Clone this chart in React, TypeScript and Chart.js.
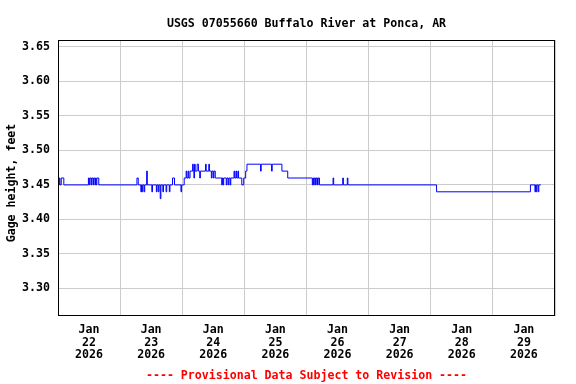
import React, { useEffect, useRef } from 'react';
import { Chart, registerables } from 'chart.js';

Chart.register(...registerables);

const TITLE = 'USGS 07055660 Buffalo River at Ponca, AR';
const Y_TITLE = 'Gage height, feet';
const FOOTER = '---- Provisional Data Subject to Revision ----';

const tickMonth = 'Jan';
const tickYear = '2026';
const tickDays = ['22', '23', '24', '25', '26', '27', '28', '29'];
const yTicks = [3.3, 3.35, 3.4, 3.45, 3.5, 3.55, 3.6, 3.65];

// hours since Jan 22 2026 00:00, value holds until next entry
const hours = [
  0, 0.5, 0.75, 1.25, 2.25, 11.75, 12, 12.25, 12.75, 13, 13.5, 13.75, 14.25, 14.5, 14.75, 15, 15.75,
  30.5, 31, 32, 32.25, 32.5, 32.75, 33.25, 33.5, 34.25, 34.5, 36.25, 36.5, 38, 38.25, 38.75, 39, 39.5, 39.75,
  40.5, 40.75, 41.75, 42, 43, 43.25, 44.25, 45, 47.5, 47.75,
  48.75, 49.5, 49.75, 50.25, 50.5, 51, 52, 52.25, 52.5, 52.75, 53, 53.75, 54.25, 54.75, 55, 57, 57.25,
  58.25, 58.5, 59.25, 59.5, 60, 60.25, 60.75, 63.25, 63.5, 63.75, 64, 65, 65.25, 65.75, 66, 66.5, 66.75,
  68, 68.25, 68.75, 69, 69.5, 69.75, 71, 71.75, 72.5, 73,
  78.25, 78.5, 82.5, 82.75, 86.5, 88.75,
  98.25, 98.5, 98.75, 99, 99.5, 99.75, 100.25, 100.5, 101, 106.25, 106.5, 110, 110.25, 111.75, 112,
  146.25,
  182.5, 184.25, 184.5, 184.75, 185, 185.5, 185.75, 186.5,
];
const gageHeight = [
  3.45, 3.46, 3.45, 3.46, 3.45, 3.46, 3.45, 3.46, 3.45, 3.46, 3.45, 3.46, 3.45, 3.46, 3.45, 3.46, 3.45,
  3.46, 3.45, 3.44, 3.45, 3.44, 3.45, 3.44, 3.45, 3.47, 3.45, 3.44, 3.45, 3.44, 3.45, 3.44, 3.45, 3.43, 3.45,
  3.44, 3.45, 3.44, 3.45, 3.44, 3.45, 3.46, 3.45, 3.44, 3.45,
  3.46, 3.47, 3.46, 3.47, 3.46, 3.47, 3.48, 3.47, 3.46, 3.48, 3.47, 3.48, 3.47, 3.46, 3.47, 3.48, 3.47,
  3.48, 3.47, 3.46, 3.47, 3.46, 3.47, 3.46, 3.45, 3.46, 3.45, 3.46, 3.45, 3.46, 3.45, 3.46, 3.45, 3.46,
  3.47, 3.46, 3.47, 3.46, 3.47, 3.46, 3.45, 3.46, 3.47, 3.48,
  3.47, 3.48, 3.47, 3.48, 3.47, 3.46,
  3.45, 3.46, 3.45, 3.46, 3.45, 3.46, 3.45, 3.46, 3.45, 3.46, 3.45, 3.46, 3.45, 3.46, 3.45,
  3.44,
  3.45, 3.44, 3.45, 3.44, 3.45, 3.44, 3.45, 3.45,
];

const FONT_FAMILY = '"DejaVu Sans Mono", monospace';

const decorPlugin = {
  id: 'decor',
  afterDraw(chart: any) {
    const { ctx, chartArea: a } = chart;
    ctx.save();
    ctx.strokeStyle = '#000000';
    ctx.lineWidth = 1;
    ctx.strokeRect(a.left + 0.5, a.top + 0.5, a.right - a.left - 1, a.bottom - a.top - 1);

    ctx.fillStyle = '#000000';
    ctx.font = `bold 11.6px ${FONT_FAMILY}`;
    ctx.textAlign = 'center';
    ctx.textBaseline = 'alphabetic';
    ctx.fillText(TITLE, (a.left + a.right) / 2, 27);

    ctx.save();
    ctx.translate(12, 183);
    ctx.rotate(-Math.PI / 2);
    ctx.textBaseline = 'middle';
    ctx.fillText(Y_TITLE, 0, 0);
    ctx.restore();

    ctx.fillStyle = '#ff0000';
    ctx.textBaseline = 'alphabetic';
    ctx.fillText(FOOTER, (a.left + a.right) / 2, 379);
    ctx.restore();
  },
};

export default function App() {
  const ref = useRef<HTMLCanvasElement>(null);
  useEffect(() => {
    document.body.style.margin = '0';
    const canvas = ref.current;
    if (!canvas) return;
    const chart = new Chart(canvas, {
      type: 'line',
      data: {
        datasets: [
          {
            data: hours.map((h, i) => ({ x: h, y: gageHeight[i] })),
            borderColor: '#0000ff',
            borderWidth: 1,
            pointRadius: 0,
            stepped: 'before',
            fill: false,
          },
        ],
      },
      options: {
        animation: false,
        responsive: false,
        devicePixelRatio: 1,
        layout: { padding: { left: 0, right: 21, top: 40, bottom: 0 } },
        plugins: { legend: { display: false }, tooltip: { enabled: false }, title: { display: false } },
        scales: {
          x: {
            type: 'linear',
            min: 0,
            max: tickDays.length * 24,
            afterBuildTicks: (s: any) => {
              const t = [];
              for (let i = 0; i <= tickDays.length; i++) t.push({ value: i * 24 });
              s.ticks = t;
            },
            afterFit: (s: any) => {
              s.height = 68;
            },
            grid: { color: '#cccccc', lineWidth: 1, drawTicks: false },
            border: { display: false },
            ticks: {
              autoSkip: false,
              maxRotation: 0,
              minRotation: 0,
              padding: 7.5,
              labelOffset: 31,
              color: '#000000',
              font: { family: FONT_FAMILY, size: 11.6, weight: 'bold', lineHeight: 1.1 },
              callback: (v: any, i: number) => (i < tickDays.length ? [tickMonth, tickDays[i], tickYear] : ''),
            },
          },
          y: {
            type: 'linear',
            min: 3.26,
            max: 3.66,
            afterBuildTicks: (s: any) => {
              s.ticks = yTicks.map((v) => ({ value: v }));
            },
            afterFit: (s: any) => {
              s.width = 58;
            },
            grid: { color: '#cccccc', lineWidth: 1, drawTicks: false },
            border: { display: false },
            ticks: {
              padding: 8,
              color: '#000000',
              font: { family: FONT_FAMILY, size: 11.6, weight: 'bold' },
              callback: (v: any) => Number(v).toFixed(2),
            },
          },
        },
      },
      plugins: [decorPlugin],
    });
    return () => chart.destroy();
  }, []);
  return (
    <div style={{ width: 576, height: 384 }}>
      <canvas ref={ref} width={576} height={384} style={{ display: 'block', width: 576, height: 384 }} />
    </div>
  );
}
